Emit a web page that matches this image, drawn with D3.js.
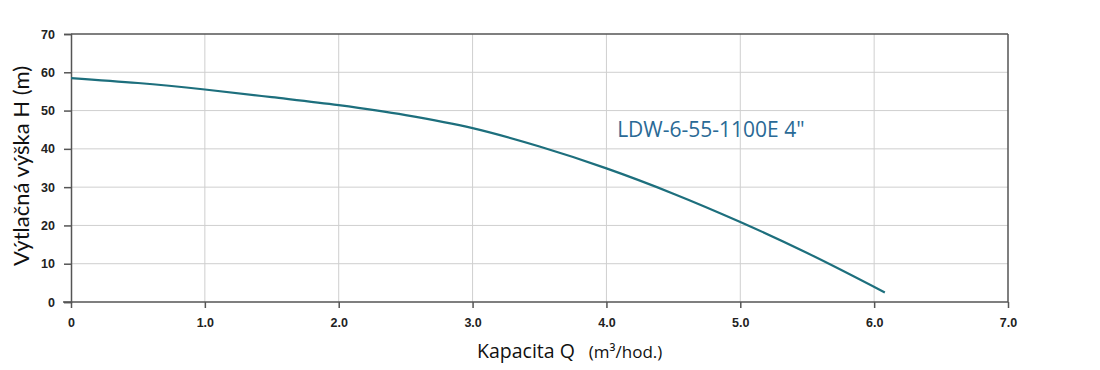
<!DOCTYPE html>
<html>
<head>
<meta charset="utf-8">
<script src="https://cdn.jsdelivr.net/npm/d3@7"></script>
<style>
  body { margin: 0; background: #fff; }
  svg { display: block; }
</style>
</head>
<body>
<div id="main"></div>
<script>
const W = 1100, H = 370;
const margin = {left: 71, right: 92, top: 34, bottom: 68};

// pump curve
const flowQ = [0, 0.5, 1.0, 1.5, 2.0, 2.5, 3.0, 3.5, 4.0, 4.5, 5.0, 5.5, 6.08];
const headH = [58.5, 57.2, 55.5, 53.5, 51.4, 48.8, 45.4, 40.6, 34.9, 28.3, 20.9, 12.8, 2.5];
const xTicks = [0, 1, 2, 3, 4, 5, 6, 7];
const xTickLabels = ["0", "1.0", "2.0", "3.0", "4.0", "5.0", "6.0", "7.0"];
const yTicks = [0, 10, 20, 30, 40, 50, 60, 70];
const curveName = "LDW-6-55-1100E 4\"";

const svg = d3.select("#main").append("svg").attr("width", W).attr("height", H);

const x = d3.scaleLinear().domain([0, 7]).range([margin.left, W - margin.right]);
const y = d3.scaleLinear().domain([0, 70]).range([H - margin.bottom, margin.top]);

const tickFont = "'Liberation Sans', Arial, sans-serif";
const textFont = "'Open Sans', 'Noto Sans', sans-serif";

// grid
svg.append("g").selectAll("line.gy")
    .data(yTicks.slice(1, -1))
    .enter().append("line")
    .attr("x1", x(0)).attr("x2", x(7))
    .attr("y1", d => y(d)).attr("y2", d => y(d))
    .attr("stroke", "#cfcfcf").attr("stroke-width", 1);
svg.append("g").selectAll("line.gx")
    .data(xTicks.slice(1, -1))
    .enter().append("line")
    .attr("x1", d => x(d)).attr("x2", d => x(d))
    .attr("y1", y(0)).attr("y2", y(70))
    .attr("stroke", "#cfcfcf").attr("stroke-width", 1);

// frame: top and right
svg.append("line").attr("x1", x(0)).attr("x2", x(7)).attr("y1", y(70)).attr("y2", y(70))
    .attr("stroke", "#555").attr("stroke-width", 1.5);
svg.append("line").attr("x1", x(7)).attr("x2", x(7)).attr("y1", y(70)).attr("y2", y(0))
    .attr("stroke", "#555").attr("stroke-width", 1.5);

// axes
const xAxis = svg.append("g").attr("transform", `translate(0,${y(0)})`)
    .call(d3.axisBottom(x).tickValues(xTicks).tickFormat((d, i) => xTickLabels[i]).tickSize(6).tickPadding(10));
const yAxis = svg.append("g").attr("transform", `translate(${x(0)},0)`)
    .call(d3.axisLeft(y).tickValues(yTicks).tickSize(7).tickPadding(9));

[xAxis, yAxis].forEach(a => {
    a.select(".domain").attr("stroke", "#555").attr("stroke-width", 1.5);
    a.selectAll(".tick line").attr("stroke", "#555").attr("stroke-width", 1.5);
    a.selectAll("text").attr("font-family", tickFont).attr("font-size", 12.5)
        .attr("font-weight", "bold").attr("fill", "#222");
});
xAxis.select(".domain").attr("d", `M${x(0) - 8},0H${x(7)}`);

// curve
const line = d3.line().x((d, i) => x(flowQ[i])).y(d => y(d)).curve(d3.curveMonotoneX);
svg.append("path").datum(headH)
    .attr("d", line)
    .attr("fill", "none")
    .attr("stroke", "#1d6f7d")
    .attr("stroke-width", 2.2);

// label of curve
svg.append("text")
    .attr("x", x(4.08)).attr("y", y(43.1))
    .attr("font-family", textFont)
    .attr("font-size", 21)
    .attr("fill", "#2a6a96")
    .text(curveName);

// axis titles
svg.append("text")
    .attr("transform", `translate(29,166) rotate(-90)`)
    .attr("text-anchor", "middle")
    .attr("font-family", "Lato, 'Open Sans', sans-serif")
    .attr("font-size", 22)
    .attr("fill", "#111")
    .text("Výtlačná výška H (m)");

const xt = svg.append("text")
    .attr("x", 477).attr("y", 358)
    .attr("font-family", textFont)
    .attr("fill", "#111");
xt.append("tspan").attr("font-size", 19.5).text("Kapacita Q");
xt.append("tspan").attr("font-size", 17).attr("dx", 14).text("(m³/hod.)");
</script>
</body>
</html>
